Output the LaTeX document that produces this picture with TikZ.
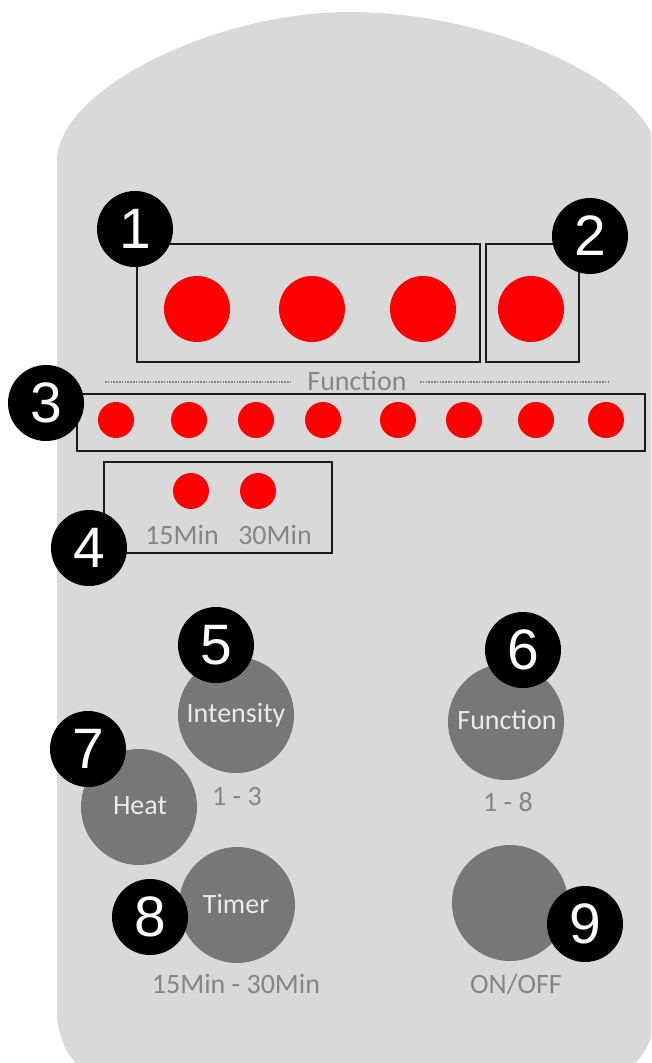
\documentclass[tikz,border=0pt]{standalone}
\usepackage{fontspec}
\setmainfont{Carlito}
\newfontfamily\digitfont{Liberation Sans}
\definecolor{bodygrey}{HTML}{D9D9D9}
\definecolor{knobgrey}{HTML}{777777}
\definecolor{labelgrey}{HTML}{858585}
\definecolor{ledred}{HTML}{FE0000}
\definecolor{framec}{HTML}{1A1A1A}
\tikzset{
  bigled/.style={circle,fill=ledred,minimum size=66pt,inner sep=0pt},
  smallled/.style={circle,fill=ledred,minimum size=36pt,inner sep=0pt},
  knob/.style={circle,fill=knobgrey,minimum size=116pt,inner sep=0pt},
  knobtext/.style={text=white!92!black,inner sep=0pt,font=\fontsize{28}{30}\selectfont},
  badge/.style={circle,fill=black,minimum size=76pt,inner sep=0pt,text=white,font=\digitfont\fontsize{57}{59}\selectfont},
  framebox/.style={draw=framec,line width=2.4pt,inner sep=0pt},
  caption/.style={text=labelgrey,inner sep=0pt,font=\fontsize{28}{30}\selectfont},
  dotline/.style={draw=labelgrey,line width=2.8pt,dash pattern=on 1.6pt off 1.2pt}
}
\begin{document}
\begin{tikzpicture}[x=1pt,y=-1pt]
\useasboundingbox (0,0) rectangle (651,1063);
\begin{scope}
\clip (0,0) rectangle (651,1063);
\fill[white] (0,0) rectangle (651,1063);
\fill[bodygrey] (57,157) .. controls (64,85) and (220,12) .. (349,12)
  .. controls (490,12) and (645,80) .. (657,150)
  -- (657,1000) .. controls (657,1040) and (640,1075) .. (600,1078)
  -- (100,1078) .. controls (70,1068) and (57,1040) .. (57,1010) -- cycle;
\end{scope}
% LEDs
\foreach \n/\x in {a/197,b/312,c/423,d/531}
  \node[bigled] (big\n) at (\x,309) {};
\foreach \n/\x in {a/116,b/189,c/256,d/323,e/398,f/464,g/536,h/606}
  \node[smallled] (fn\n) at (\x,420) {};
\node[smallled] (tma) at (191,491) {};
\node[smallled] (tmb) at (258,491) {};
% captions
\node[caption] (fnlabel) at (357,381) {Function};
\coordinate (dla) at (105,382); \coordinate (dlb) at (290,382);
\coordinate (dlc) at (420,382); \coordinate (dld) at (608,382);
\draw[dotline] (dla) -- (dlb);
\draw[dotline] (dlc) -- (dld);
\node[caption] (m15) at (182,535) {15Min};
\node[caption] (m30) at (275,535) {30Min};
% frames
\node[framebox,minimum width=343pt,minimum height=118pt] (boxone) at (308.5,303) {};
\node[framebox,minimum width=93pt,minimum height=118pt] (boxtwo) at (532.5,303) {};
\node[framebox,minimum width=568pt,minimum height=57pt] (boxthree) at (361,422.5) {};
\node[framebox,minimum width=228pt,minimum height=91pt] (boxfour) at (218,507.5) {};
% knobs
\node[knob] (intensity) at (236,715) {};
\node[knob] (function) at (506,722) {};
\node[knob] (heat) at (139,807) {};
\node[knob] (timer) at (237,905) {};
\node[knob] (onoff) at (510,903) {};
\node[knobtext] (intensitytext) at (236,715) {Intensity};
\node[knobtext] (functiontext) at (507,720) {Function};
\node[knobtext] (heattext) at (140,806) {Heat};
\node[knobtext] (timertext) at (236,904) {Timer};
\node[caption] (r13a) at (237,797) {1 - 3};
\node[caption] (r18) at (508,802) {1 - 8};
\node[caption] (rtimer) at (236,984) {15Min - 30Min};
\node[caption] (ronoff) at (516,984) {ON/OFF};
% badges
\node[badge] (bone) at (135,229) {1};
\node[badge] (btwo) at (590,236) {2};
\node[badge] (bthree) at (46,403) {3};
\node[badge] (bfour) at (89,548) {4};
\node[badge] (bfive) at (216,645) {5};
\node[badge] (bsix) at (523,650) {6};
\node[badge] (bseven) at (88,749) {7};
\node[badge] (beight) at (150,917) {8};
\node[badge] (bnine) at (585,924) {9};
\end{tikzpicture}
\end{document}
